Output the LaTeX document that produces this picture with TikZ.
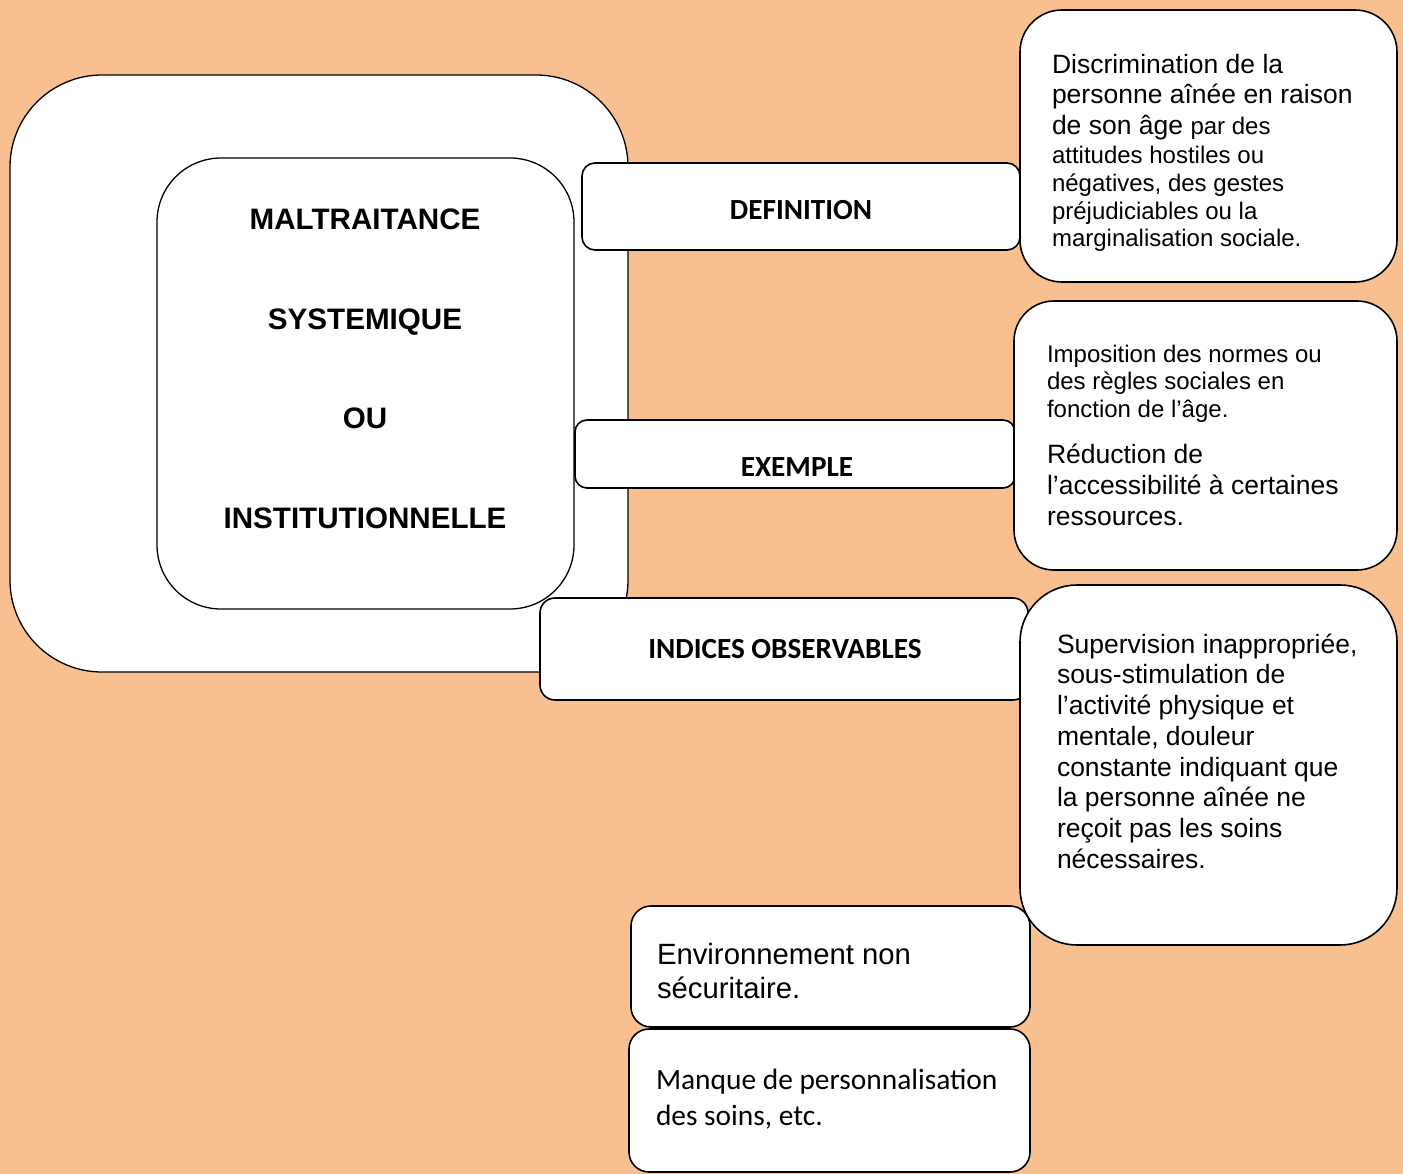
\documentclass[tikz,border=0pt]{standalone}
\usepackage{fontspec}
\setmainfont{Liberation Sans}
\newfontfamily\calibri{Carlito}
\definecolor{peach}{RGB}{248,192,144}
\newcommand{\fs}[1]{\fontsize{#1}{#1}\selectfont}
\begin{document}
\begin{tikzpicture}[x=1pt,y=-1pt,
  box/.style={draw=black, fill=white, line width=1.6pt, inner sep=0pt, outer sep=0pt, anchor=north west},
  bigbox/.style={box, line width=1.3pt},
  txt/.style={inner sep=0pt, outer sep=0pt, anchor=base west, text=black},
  head/.style={inner sep=0pt, outer sep=0pt, anchor=base, font={\bfseries\fs{29.6}}},
  cal/.style={inner sep=0pt, outer sep=0pt, anchor=base, font={\calibri\bfseries\fs{29.2}}}]
\useasboundingbox (0,0) rectangle (1403,1174);
\clip (0,0) rectangle (1403,1174);
\fill[peach] (0,0) rectangle (1403,1174);

% left nested boxes
\node[bigbox, rounded corners=92pt, minimum width=618pt, minimum height=597pt] (outer) at (10,75) {};
\node[bigbox, rounded corners=64pt, minimum width=417pt, minimum height=451pt] (inner) at (157,158) {};
\node[head] (h1) at (365,229.5) {MALTRAITANCE};
\node[head] (h2) at (365,329.5) {SYSTEMIQUE};
\node[head] (h3) at (365,428.5) {OU};
\node[head] (h4) at (365,528.5) {INSTITUTIONNELLE};

% category boxes
\node[box, rounded corners=13pt, minimum width=438pt, minimum height=87pt] (def) at (582,163) {};
\node[cal] (deft) at (801,220) {DEFINITION};
\node[box, rounded corners=12pt, minimum width=440pt, minimum height=68pt] (ex) at (575,420) {};
\node[cal] (ext) at (797,476) {EXEMPLE};
\node[box, rounded corners=15pt, minimum width=488pt, minimum height=102pt] (ind) at (540,598) {};
\node[cal] (indt) at (785,658) {INDICES OBSERVABLES};

% right boxes
\node[box, rounded corners=42pt, minimum width=377pt, minimum height=272pt] (disc) at (1020,10) {};
\node[txt] (disct) at (1052,73.5) {\vtop{\lineskiplimit=-1000pt\lineskip=0pt
  \fs{26.5}\hbox{Discrimination de la}\baselineskip=30.5pt
  \hbox{personne aînée en raison}
  \hbox{de son âge {\fs{24}par des}}
  \fs{24}\baselineskip=29pt\hbox{attitudes hostiles ou}
  \baselineskip=28pt\hbox{négatives, des gestes}
  \hbox{préjudiciables ou la}
  \baselineskip=27pt\hbox{marginalisation sociale.}}};

\node[box, rounded corners=40pt, minimum width=383pt, minimum height=269pt] (imp) at (1014,301) {};
\node[txt] (impt) at (1047,362) {\vtop{\lineskiplimit=-1000pt\lineskip=0pt
  \fs{24}\hbox{Imposition des normes ou}\baselineskip=28pt
  \hbox{des règles sociales en}
  \baselineskip=27pt\hbox{fonction de l’âge.}
  \fs{26.5}\baselineskip=46.5pt\hbox{Réduction de}
  \baselineskip=31pt\hbox{l’accessibilité à certaines}
  \hbox{ressources.}}};

\node[box, rounded corners=57pt, minimum width=377pt, minimum height=360pt] (sup) at (1020,585) {};
\node[txt] (supt) at (1057,653) {\vtop{\lineskiplimit=-1000pt\lineskip=0pt
  \fs{26.5}\baselineskip=30.75pt
  \hbox{Supervision inappropriée,}
  \hbox{sous-stimulation de}
  \hbox{l’activité physique et}
  \hbox{mentale, douleur}
  \hbox{constante indiquant que}
  \hbox{la personne aînée ne}
  \hbox{reçoit pas les soins}
  \hbox{nécessaires.}}};

\node[box, rounded corners=20pt, minimum width=399pt, minimum height=121pt] (env) at (631,906) {};
\node[txt] (envt) at (657,964.5) {\vtop{\lineskiplimit=-1000pt\lineskip=0pt
  \fs{29.3}\baselineskip=34pt
  \hbox{Environnement non}
  \hbox{sécuritaire.}}};

\node[box, rounded corners=20pt, minimum width=401pt, minimum height=143pt] (man) at (629,1029) {};
\node[txt] (mant) at (656,1089) {\vtop{\lineskiplimit=-1000pt\lineskip=0pt
  \calibri\fs{29.4}\baselineskip=36pt
  \hbox{Manque de personnalisation}
  \hbox{des soins, etc.}}};
\end{tikzpicture}
\end{document}
